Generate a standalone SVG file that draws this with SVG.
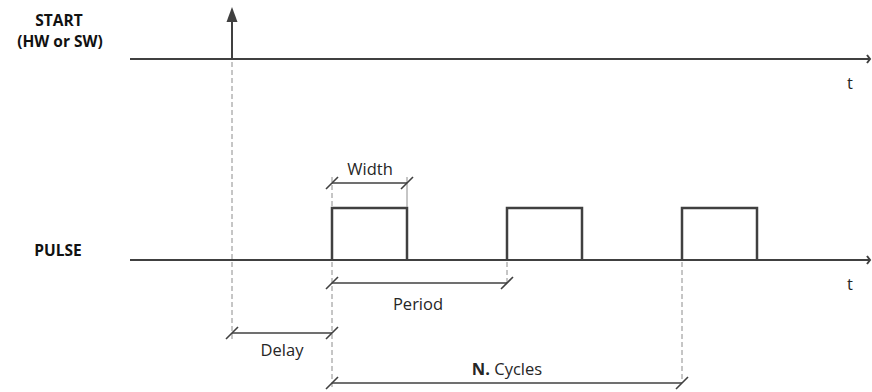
<svg xmlns="http://www.w3.org/2000/svg" width="872" height="392" viewBox="0 0 872 392">
<style>
.ax{stroke:#404040;stroke-width:2;fill:none}
.pl{stroke:#404040;stroke-width:2.5;fill:none}
.ds{stroke:#8c8c8c;stroke-width:1;stroke-dasharray:5,3;fill:none}
.dm{stroke:#404040;stroke-width:1.6;fill:none}
.lb{font-family:"Open Sans","Liberation Sans",sans-serif;font-size:16.5px;fill:#262626}
.bl{font-family:"Open Sans","Liberation Sans",sans-serif;font-size:15.5px;font-weight:bold;fill:#111}
</style>
<rect width="872" height="392" fill="#fff"/>
<g id="labels">
<text class="bl" x="59" y="26" text-anchor="middle">START</text>
<text class="bl" x="60" y="47" text-anchor="middle">(HW or SW)</text>
<text class="bl" x="58" y="256" text-anchor="middle">PULSE</text>
<text class="lb" x="850" y="89" text-anchor="middle">t</text>
<text class="lb" x="850" y="290" text-anchor="middle">t</text>
</g>
<g id="start-axis">
<line class="ax" x1="130" y1="59" x2="870" y2="59"/>
<polyline class="ax" points="867,55 870,59 867,63" stroke-width="1.5"/>
<line class="ax" x1="232" y1="59" x2="232" y2="20" stroke-width="2.5"/>
<polygon points="232,7 226.5,22 237.5,22" fill="#404040"/>
</g>
<g id="pulse-axis">
<line class="ax" x1="130" y1="260" x2="870" y2="260"/>
<polyline class="ax" points="867,256 870,260 867,264" stroke-width="1.5"/>
<polyline class="pl" points="332,260 332,208 407,208 407,260"/>
<polyline class="pl" points="507,260 507,208 582,208 582,260"/>
<polyline class="pl" points="682,260 682,208 757,208 757,260"/>
</g>
<g id="connectors">
<line class="ds" x1="232" y1="62" x2="232" y2="340"/>
<line class="ds" x1="332" y1="177" x2="332" y2="207"/>
<line class="ds" x1="332" y1="262" x2="332" y2="388"/>
<line x1="407" y1="177" x2="407" y2="207" stroke="#8c8c8c" stroke-width="1"/>
<line class="ds" x1="507" y1="262" x2="507" y2="286"/>
<line class="ds" x1="682" y1="262" x2="682" y2="380"/>
</g>
<g id="dim-width">
<line class="dm" x1="332" y1="183" x2="407" y2="183"/>
<line class="dm" x1="326" y1="189" x2="338" y2="177"/>
<line class="dm" x1="401" y1="189" x2="413" y2="177"/>
<text class="lb" x="370" y="175" text-anchor="middle">Width</text>
</g>
<g id="dim-period">
<line class="dm" x1="332" y1="283" x2="507" y2="283"/>
<line class="dm" x1="326" y1="289" x2="338" y2="277"/>
<line class="dm" x1="501" y1="289" x2="513" y2="277"/>
<text class="lb" x="418" y="310" text-anchor="middle">Period</text>
</g>
<g id="dim-delay">
<line class="dm" x1="232" y1="333" x2="332" y2="333"/>
<line class="dm" x1="226" y1="339" x2="238" y2="327"/>
<line class="dm" x1="326" y1="339" x2="338" y2="327"/>
<text class="lb" x="282" y="356" text-anchor="middle">Delay</text>
</g>
<g id="dim-cycles">
<line class="dm" x1="332" y1="383" x2="682" y2="383"/>
<line class="dm" x1="326" y1="389" x2="338" y2="377"/>
<line class="dm" x1="676" y1="389" x2="688" y2="377"/>
<text class="lb" x="507" y="375" text-anchor="middle"><tspan font-weight="bold">N.</tspan> Cycles</text>
</g>
</svg>
